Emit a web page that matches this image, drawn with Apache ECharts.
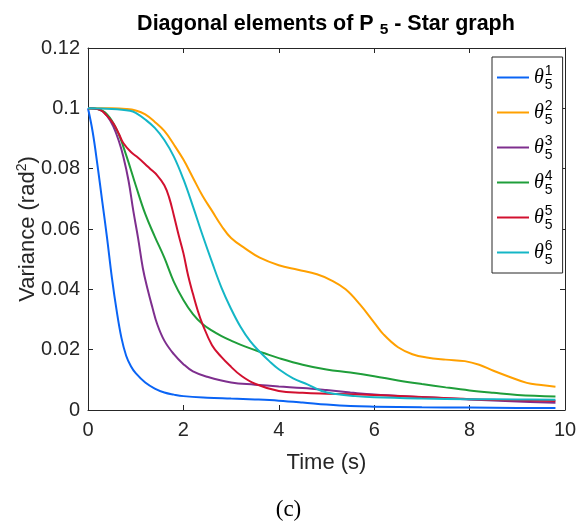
<!DOCTYPE html>
<html>
<head>
<meta charset="utf-8">
<script src="https://cdn.jsdelivr.net/npm/echarts@6/dist/echarts.min.js"></script>
<style>
  html, body { margin: 0; padding: 0; background: #ffffff; }
  #chart { width: 577px; height: 525px; }
</style>
</head>
<body>
<div id="chart"></div>
<script>
// Diagonal elements of the covariance P_5 over time, one curve per state.
const seriesNames = ['theta1', 'theta2', 'theta3', 'theta4', 'theta5', 'theta6'];
const seriesLabels = ['1', '2', '3', '4', '5', '6'];

const time1 = [0, 0.1, 0.2, 0.3, 0.4, 0.5, 0.6, 0.7, 0.8, 0.9, 1.0, 1.2, 1.4, 1.6, 1.8, 2.0, 2.5, 3.0, 3.5, 4.0, 4.5, 5.0, 5.5, 6.0, 7.0, 8.0, 9.0, 9.8];
const var1  = [0.1, 0.092, 0.081, 0.069, 0.057, 0.044, 0.033, 0.024, 0.018, 0.0145, 0.0122, 0.0091, 0.0071, 0.0058, 0.0051, 0.0046, 0.0041, 0.0038, 0.0035, 0.0031, 0.0025, 0.0018, 0.0013, 0.0011, 0.0009, 0.0008, 0.0007, 0.0007];

const time2 = [0, 0.5, 0.8, 1.0, 1.2, 1.4, 1.6, 1.8, 2.0, 2.2, 2.4, 2.6, 2.8, 3.0, 3.3, 3.6, 4.0, 4.4, 4.8, 5.1, 5.4, 5.7, 6.0, 6.2, 6.5, 6.8, 7.1, 7.5, 7.9, 8.2, 8.5, 8.8, 9.2, 9.5, 9.8];
const var2  = [0.1, 0.1, 0.0998, 0.0993, 0.098, 0.0955, 0.0925, 0.088, 0.083, 0.077, 0.071, 0.066, 0.061, 0.057, 0.0535, 0.0505, 0.048, 0.0465, 0.045, 0.043, 0.040, 0.035, 0.029, 0.025, 0.0208, 0.0185, 0.0174, 0.0167, 0.0162, 0.015, 0.013, 0.0112, 0.009, 0.0083, 0.0077];

const time3 = [0, 0.25, 0.4, 0.53, 0.65, 0.74, 0.85, 0.95, 1.05, 1.15, 1.25, 1.35, 1.45, 1.6, 1.8, 2.0, 2.2, 2.5, 3.0, 3.5, 4.0, 4.5, 5.0, 5.5, 6.0, 7.0, 8.0, 9.0, 9.8];
const var3  = [0.1, 0.0995, 0.0975, 0.094, 0.089, 0.084, 0.076, 0.066, 0.057, 0.047, 0.040, 0.034, 0.0285, 0.023, 0.0185, 0.0152, 0.0128, 0.011, 0.0091, 0.0084, 0.0078, 0.0073, 0.0066, 0.0058, 0.0051, 0.0043, 0.0035, 0.0028, 0.0024];

const time4 = [0, 0.2, 0.4, 0.6, 0.8, 1.0, 1.2, 1.4, 1.6, 1.8, 2.0, 2.2, 2.4, 2.6, 2.8, 3.0, 3.3, 3.7, 4.0, 4.5, 5.0, 5.5, 6.0, 6.5, 7.0, 7.5, 8.0, 8.5, 9.0, 9.8];
const var4  = [0.1, 0.0998, 0.098, 0.093, 0.0845, 0.0745, 0.065, 0.0575, 0.0505, 0.0425, 0.0365, 0.0318, 0.0285, 0.0263, 0.0245, 0.023, 0.021, 0.0188, 0.0172, 0.015, 0.0134, 0.0124, 0.0112, 0.0098, 0.0086, 0.0075, 0.0065, 0.0057, 0.005, 0.0045];

const time5 = [0, 0.25, 0.4, 0.53, 0.65, 0.74, 0.9, 1.02, 1.2, 1.3, 1.45, 1.6, 1.7, 1.8, 1.9, 2.0, 2.1, 2.2, 2.3, 2.4, 2.6, 2.8, 3.0, 3.2, 3.5, 4.0, 4.5, 5.0, 5.5, 6.0, 7.0, 8.0, 9.0, 9.8];
const var5  = [0.1, 0.0995, 0.0975, 0.095, 0.0915, 0.0885, 0.0855, 0.084, 0.0815, 0.080, 0.0778, 0.0745, 0.0705, 0.0645, 0.058, 0.052, 0.0445, 0.0385, 0.033, 0.0285, 0.0215, 0.0175, 0.0143, 0.0115, 0.0087, 0.0063, 0.0057, 0.0054, 0.0052, 0.005, 0.0043, 0.0036, 0.0032, 0.003];

const time6 = [0, 0.5, 0.88, 1.0, 1.2, 1.4, 1.6, 1.8, 2.0, 2.2, 2.4, 2.6, 2.8, 3.0, 3.2, 3.4, 3.6, 3.8, 4.0, 4.3, 4.6, 4.9, 5.2, 5.6, 6.0, 7.0, 8.0, 9.0, 9.8];
const var6  = [0.1, 0.0998, 0.0992, 0.0985, 0.0963, 0.0935, 0.0895, 0.084, 0.0765, 0.0675, 0.058, 0.049, 0.0405, 0.0335, 0.0275, 0.0228, 0.0193, 0.0162, 0.0135, 0.0105, 0.0085, 0.0063, 0.0053, 0.0046, 0.0042, 0.0038, 0.0036, 0.0035, 0.0034];

const xTicks = [0, 2, 4, 6, 8, 10];
const yTicks = [0, 0.02, 0.04, 0.06, 0.08, 0.1, 0.12];

const colors = ['#0a64f5', '#ffa000', '#7e2f8e', '#1f9e3a', '#d2102f', '#14b6c6'];
const times = [time1, time2, time3, time4, time5, time6];
const values = [var1, var2, var3, var4, var5, var6];

const sansFont = 'Liberation Sans, Arial, Helvetica, sans-serif';
const serifFont = 'Liberation Serif, DejaVu Serif, serif';
const axisColor = '#262626';

const series = seriesNames.map((name, i) => ({
  name: name,
  type: 'line',
  data: times[i].map((t, j) => [t, values[i][j]]),
  smooth: 0.4,
  symbol: 'none',
  lineStyle: { color: colors[i], width: 2 },
  itemStyle: { color: colors[i] },
  z: 2 + i
}));

// Axes on all four sides form the box; ticks point into the plot.
function boxAxisX(extra) {
  return Object.assign({
    type: 'value', min: xTicks[0], max: xTicks[xTicks.length - 1], interval: 2,
    splitLine: { show: false },
    axisLine: { show: true, onZero: false, lineStyle: { color: axisColor, width: 1 } },
    axisTick: { show: true, inside: true, length: 5, lineStyle: { color: axisColor } }
  }, extra);
}
function boxAxisY(extra) {
  return Object.assign({
    type: 'value', min: yTicks[0], max: yTicks[yTicks.length - 1], interval: 0.02,
    splitLine: { show: false },
    axisLine: { show: true, onZero: false, lineStyle: { color: axisColor, width: 1 } },
    axisTick: { show: true, inside: true, length: 5, lineStyle: { color: axisColor } }
  }, extra);
}

const chart = echarts.init(document.getElementById('chart'), null, { renderer: 'canvas' });
chart.setOption({
  animation: false,
  backgroundColor: '#ffffff',
  color: colors,
  title: {
    text: '{a|Diagonal elements of P }{s|5}{a| - Star graph}',
    left: 321,
    top: 6,
    textAlign: 'center',
    textStyle: {
      rich: {
        a: { fontFamily: sansFont, fontWeight: 'bold', fontSize: 21.5, lineHeight: 26, color: '#000000' },
        s: { fontFamily: sansFont, fontWeight: 'bold', fontSize: 15.5, lineHeight: 15, verticalAlign: 'top', padding: [11, 0, 0, 0], color: '#000000' }
      }
    }
  },
  grid: { left: 88, right: 12, top: 48, bottom: 115, containLabel: false, outerBoundsMode: 'none' },
  xAxis: [
    boxAxisX({
      position: 'bottom',
      name: 'Time (s)',
      nameLocation: 'middle',
      nameGap: 42,
      nameMoveOverlap: false,
      nameTextStyle: { fontFamily: sansFont, fontSize: 22, color: axisColor },
      axisLabel: { show: true, margin: 10, fontFamily: sansFont, fontSize: 20, color: axisColor }
    }),
    boxAxisX({ position: 'top', axisLabel: { show: false } })
  ],
  yAxis: [
    boxAxisY({
      position: 'left',
      name: 'Variance (rad{sp|2})',
      nameLocation: 'middle',
      nameGap: 47,
      nameMoveOverlap: false,
      nameTextStyle: {
        fontFamily: sansFont, fontSize: 22, color: axisColor, lineHeight: 26,
        rich: { sp: { fontFamily: sansFont, fontSize: 14, color: axisColor, verticalAlign: 'top', lineHeight: 14 } }
      },
      axisLabel: {
        show: true, margin: 8, fontFamily: sansFont, fontSize: 20, color: axisColor,
        formatter: v => String(Math.round(v * 100) / 100)
      }
    }),
    boxAxisY({ position: 'right', axisLabel: { show: false } })
  ],
  legend: {
    orient: 'vertical',
    left: 492,
    top: 57,
    padding: [3, 10, 3, 5],
    itemGap: 0,
    itemWidth: 32,
    itemHeight: 2,
    icon: 'rect',
    backgroundColor: '#ffffff',
    borderColor: axisColor,
    borderWidth: 1,
    borderRadius: 0,
    data: seriesNames,
    formatter: name => '{th|θ}{sb|5}{sp|' + seriesLabels[seriesNames.indexOf(name)] + '}',
    textStyle: {
      rich: {
        th: { fontFamily: serifFont, fontStyle: 'italic', fontSize: 20, color: '#000000', lineHeight: 35, verticalAlign: 'middle', padding: [0, 1, 0, 0] },
        sb: { fontFamily: sansFont, fontSize: 14, color: '#000000', width: 0, lineHeight: 14, verticalAlign: 'bottom', padding: [0, 0, 3, 0] },
        sp: { fontFamily: sansFont, fontSize: 14, color: '#000000', lineHeight: 14, verticalAlign: 'top', padding: [4, 0, 0, 0] }
      }
    }
  },
  graphic: [{
    type: 'text',
    left: 'center',
    top: 498,
    style: { text: '(c)', font: '23px ' + serifFont, fill: '#000000' }
  }],
  series: series
});
</script>
</body>
</html>
